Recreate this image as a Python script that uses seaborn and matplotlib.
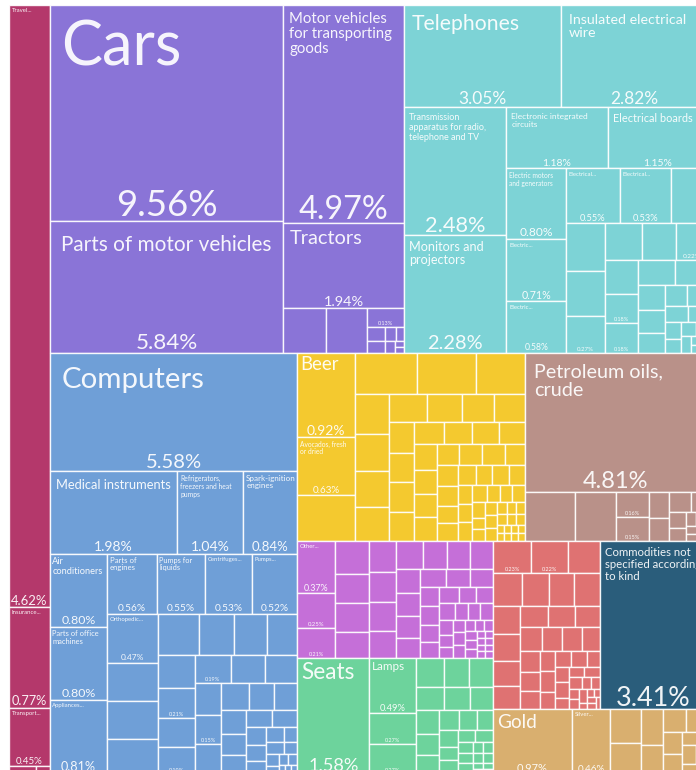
import numpy as np
import matplotlib
matplotlib.use("Agg")
import matplotlib.pyplot as plt
from matplotlib.patches import Rectangle
from matplotlib.textpath import TextPath
from matplotlib.font_manager import FontProperties
import seaborn as sns

# Share of total exports (%), one pair of lists per sector.
# names line up with the first values: None = blank cell, "" = share only.
services_names = ["Travel", "Insurance", "Transport"]
services_values = [4.62, 0.77, 0.45, 0.04, 0.02]

transport_names = ["Cars", "Parts of motor vehicles", "Motor vehicles for transporting goods",
                   "Tractors", None, None, ""]
transport_values = [9.56, 5.84, 4.97, 1.94, 0.36, 0.34, 0.13, 0.05, 0.04, 0.03, 0.02, 0.02,
                    0.01, 0.01]

electrical_names = ["Telephones", "Insulated electrical wire",
                    "Transmission apparatus for radio, telephone and TV", "Monitors and projectors",
                    "Electronic integrated circuits", "Electrical boards",
                    "Electric motors and generators", "Electric heaters and hair dryers",
                    "Electric sound or visual signalling apparatus",
                    "Electrical transformers and inductors",
                    "Electrical apparatus for switching circuits",
                    None, None, None, "", None, None, "", None, "", ""]
electrical_values = [3.05, 2.82, 2.48, 2.28, 1.18, 1.15, 0.80, 0.71, 0.58, 0.55, 0.53,
                     0.37, 0.36, 0.33, 0.27, 0.26, 0.24, 0.22, 0.21, 0.18, 0.18,
                     0.17, 0.15, 0.13, 0.12, 0.10, 0.09, 0.08, 0.07, 0.06, 0.05, 0.04, 0.04,
                     0.03, 0.03, 0.02, 0.02, 0.01]

machinery_names = ["Computers", "Medical instruments", "Refrigerators, freezers and heat pumps",
                   "Spark-ignition engines", "Air conditioners", "Parts of office machines",
                   "Appliances for thermostatic control", "Parts of engines",
                   "Pumps for liquids", "Centrifuges, filtering and purifying machinery",
                   "Pumps, compressors and fans", "Orthopedic appliances",
                   None, None, None, None, None, None, None, None,
                   "", None, "", "", None, None, None, ""]
machinery_values = [5.58, 1.98, 1.04, 0.84, 0.80, 0.80, 0.81, 0.56, 0.55, 0.53, 0.52,
                    0.47, 0.37, 0.36, 0.34, 0.32, 0.28, 0.26, 0.24, 0.23,
                    0.21, 0.20, 0.19, 0.19, 0.18, 0.17, 0.16, 0.15, 0.15, 0.14,
                    0.13, 0.12, 0.11, 0.10, 0.09, 0.08, 0.08, 0.07, 0.06, 0.05, 0.05,
                    0.04, 0.04, 0.03, 0.03, 0.02, 0.02, 0.02, 0.01, 0.01, 0.01]

food_names = ["Beer", "Avocados, fresh or dried"]
food_values = [0.92, 0.63, 0.50, 0.49, 0.46, 0.38, 0.26, 0.24, 0.23, 0.22, 0.20, 0.18, 0.17,
               0.16, 0.15, 0.14, 0.14, 0.14, 0.13, 0.12, 0.12, 0.11, 0.11, 0.10, 0.10, 0.10,
               0.09, 0.09, 0.09, 0.08, 0.08, 0.08, 0.07, 0.07, 0.07, 0.06, 0.06, 0.06,
               0.05, 0.05, 0.05, 0.05, 0.04, 0.04, 0.04, 0.04, 0.03, 0.03, 0.03, 0.03, 0.03,
               0.02, 0.02, 0.02, 0.02, 0.02, 0.02, 0.01, 0.01, 0.01, 0.01, 0.01, 0.01,
               0.01, 0.01]

mineral_names = ["Petroleum oils, crude", None, None, "", ""]
mineral_values = [4.81, 0.47, 0.38, 0.16, 0.15, 0.10, 0.09, 0.08, 0.06, 0.05, 0.04, 0.03,
                  0.03, 0.02, 0.02, 0.01, 0.01]

plastics_names = ["Other plastic articles", "", ""]
plastics_values = [0.37, 0.25, 0.21, 0.21, 0.19, 0.18, 0.17, 0.16, 0.16, 0.15, 0.14, 0.14,
                   0.13, 0.12, 0.12, 0.11, 0.10, 0.10, 0.09, 0.09, 0.08, 0.08, 0.07, 0.07,
                   0.06, 0.06, 0.06, 0.05, 0.05, 0.05, 0.04, 0.04, 0.04, 0.04,
                   0.03, 0.03, 0.03, 0.03, 0.03, 0.02, 0.02, 0.02, 0.02, 0.02, 0.02,
                   0.01, 0.01, 0.01, 0.01, 0.01, 0.01, 0.01, 0.01]

misc_names = ["Seats", "Lamps", "", ""]
misc_values = [1.58, 0.49, 0.27, 0.27, 0.15, 0.14, 0.13, 0.12, 0.11, 0.10, 0.10, 0.09, 0.08,
               0.08, 0.07, 0.06, 0.06, 0.05, 0.05, 0.04, 0.04, 0.03, 0.03, 0.03,
               0.02, 0.02, 0.02, 0.02, 0.01, 0.01, 0.01, 0.01]

metals_names = ["", ""]
metals_values = [0.23, 0.22, 0.19, 0.18, 0.17, 0.16, 0.16, 0.15, 0.14, 0.13, 0.12, 0.11, 0.11,
                 0.10, 0.10, 0.09, 0.09, 0.08, 0.08, 0.07, 0.07, 0.06, 0.06, 0.05, 0.05, 0.05,
                 0.04, 0.04, 0.04, 0.03, 0.03, 0.03, 0.03, 0.02, 0.02, 0.02, 0.02, 0.02,
                 0.01, 0.01, 0.01, 0.01, 0.01, 0.01]

other_names = ["Commodities not specified according to kind"]
other_values = [3.41]

precious_names = ["Gold", "Silver"]
precious_values = [0.97, 0.46, 0.20, 0.18, 0.15, 0.12, 0.10, 0.09, 0.08, 0.07, 0.06, 0.05,
                   0.04, 0.03, 0.02]

sector_colors = ["#8a74d7", "#7dd3d6", "#6f9fd7", "#f4c92f", "#b99189", "#c56fd8",
                 "#6dd39c", "#df7272", "#2a5d7b", "#d9af6f"]
services_color = "#b4386b"

sectors = [
    (transport_names, transport_values),
    (electrical_names, electrical_values),
    (machinery_names, machinery_values),
    (food_names, food_values),
    (mineral_names, mineral_values),
    (plastics_names, plastics_values),
    (misc_names, misc_values),
    (metals_names, metals_values),
    (other_names, other_values),
    (precious_names, precious_values),
]

# treemap frame in pixels; it runs past the right and bottom edge like the original crop
FRAME = (9, 5, 698, 769)
RATIO = 0.97
PT = 0.72  # points per pixel at 100 dpi

sns.set_theme(style="white")
plt.rcParams["font.family"] = ["Lato", "DejaVu Sans"]
FP = FontProperties(family=["Lato", "DejaVu Sans"])
_widths = {}


def text_w(s):
    # width of s in pixels for a 1 px font
    if s not in _widths:
        _widths[s] = TextPath((0, 0), s, size=100, prop=FP).get_extents().width / 100
    return _widths[s]


def squarify(values, x0, y0, x1, y1, ratio=RATIO):
    # d3-style squarified layout, keeps the order of values
    rects = []
    value = float(sum(values))
    n = len(values)
    i0 = 0
    while i0 < n:
        dx, dy = x1 - x0, y1 - y0
        i1 = i0 + 1
        total = values[i0]
        vmin = vmax = total
        alpha = max(dy / dx, dx / dy) / (value * ratio)
        beta = total * total * alpha
        best = max(vmax / beta, beta / vmin)
        while i1 < n:
            v = values[i1]
            s = total + v
            lo, hi = min(vmin, v), max(vmax, v)
            beta = s * s * alpha
            r = max(hi / beta, beta / lo)
            if r > best:
                break
            total, vmin, vmax, best = s, lo, hi, r
            i1 += 1
        row = values[i0:i1]
        if dx < dy:
            yb = y0 + dy * total / value if i1 < n else y1
            x = x0
            for v in row:
                w = (x1 - x0) * v / total
                rects.append((x, y0, w, yb - y0))
                x += w
            y0 = yb
        else:
            xb = x0 + dx * total / value if i1 < n else x1
            y = y0
            for v in row:
                h = (y1 - y0) * v / total
                rects.append((x0, y, xb - x0, h))
                y += h
            x0 = xb
        value -= total
        i0 = i1
    return rects


def wrap(text, size, width):
    lines, cur = [], ""
    for word in text.split():
        if text_w(word) * size > width:
            return None
        trial = word if not cur else cur + " " + word
        if text_w(trial) * size <= width:
            cur = trial
        else:
            lines.append(cur)
            cur = word
    lines.append(cur)
    return lines


def name_block(name, w, h, pad, room):
    aw = w - 2 * pad
    if aw <= 8 or room <= 6:
        return None
    size = min(np.sqrt(0.14 * w * h / text_w(name)), 0.3 * h, 70)
    if w >= 45:
        while size >= 6.5:
            lines = wrap(name, size, aw)
            if lines and len(lines) * 1.25 * size <= room:
                return size, lines
            size *= 0.94
    size = 6.0
    head = name.split()[0].rstrip(",")
    while head and text_w(head + "...") * size > aw:
        head = head[:-1]
    if not head or 1.2 * size > room + 4:
        return None
    return size, [head + "..."]


def label_cell(ax, rect, name, value):
    x, y, w, h = rect
    if name is None or w < 20 or h < 13:
        return
    pad = min(max(0.05 * w, 2.5), 12)
    share = min(0.2 * np.sqrt(w * h), 0.17 * h, (w - 2 * pad) / 2.7, 37)
    show_share = w >= 26 and h >= 15
    share = max(share, 5.5)
    room = h - 2 * pad - (1.15 * share if show_share else 0)
    if name:
        block = name_block(name, w, h, pad, room)
        if block:
            size, lines = block
            ax.text(x + pad, y + pad * 1.2, "\n".join(lines), ha="left", va="top",
                    fontsize=size * PT, color="white", alpha=0.93, linespacing=1.1,
                    clip_on=True)
    if show_share:
        ax.text(x + w / 2, y + h - (0.08 * share + 1.5), f"{value:.2f}%", ha="center",
                va="baseline", fontsize=share * PT, color="white", alpha=0.93,
                clip_on=True)


def draw_group(ax, rect, names, values, color):
    x, y, w, h = rect
    cells = squarify(values, x, y, x + w, y + h)
    names = list(names) + [None] * (len(values) - len(names))
    for cell in cells:
        ax.add_patch(Rectangle(cell[:2], cell[2], cell[3], facecolor=color,
                               edgecolor=(1, 1, 1, 0.9), linewidth=1.0))
    for cell, nm, v in zip(cells, names, values):
        label_cell(ax, cell, nm, v)


fig = plt.figure(figsize=(6.96, 7.7), dpi=100)
ax = fig.add_axes([0, 0, 1, 1])
ax.set_xlim(0, 696)
ax.set_ylim(770, 0)
ax.axis("off")

fx, fy, fw, fh = FRAME
goods_totals = [sum(v) for _, v in sectors]
serv_total = sum(services_values)
serv_w = fw * serv_total / (serv_total + sum(goods_totals))

draw_group(ax, (fx, fy, serv_w, fh), services_names, services_values, services_color)

sector_rects = squarify(goods_totals, fx + serv_w, fy, fx + fw, fy + fh)
for rect, (names, values), color in zip(sector_rects, sectors, sector_colors):
    draw_group(ax, rect, names, values, color)

fig.savefig("out.png", dpi=100)
